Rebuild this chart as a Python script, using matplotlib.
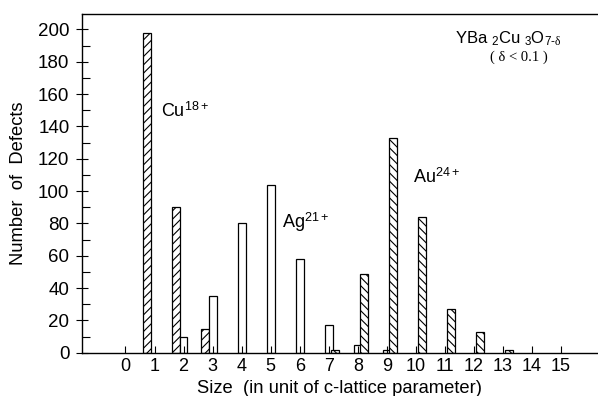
import matplotlib
matplotlib.use("Agg")
import matplotlib.pyplot as plt
import numpy as np

plt.rcParams['font.family'] = ['Liberation Sans', 'DejaVu Sans']
plt.rcParams['mathtext.fontset'] = 'custom'
plt.rcParams['mathtext.rm'] = 'Liberation Sans'
plt.rcParams['mathtext.it'] = 'Liberation Serif'
plt.rcParams['mathtext.bf'] = 'Liberation Sans:bold'
plt.rcParams['hatch.linewidth'] = 0.8

# Defect size distribution (size in units of the c-lattice parameter)
tick_sizes = list(range(16))
cu_sizes = [1, 2, 3]
cu_counts = [198, 90, 15]
ag_sizes = [2, 3, 4, 5, 6, 7, 8, 9]
ag_counts = [10, 35, 80, 104, 58, 17, 5, 2]
au_sizes = [7, 8, 9, 10, 11, 12, 13]
au_counts = [2, 49, 133, 84, 27, 13, 2]

bar_w = 0.27
fig = plt.figure(figsize=(5.98, 3.96), dpi=100)
ax = fig.add_axes([0.137, 0.109, 0.863, 0.856])

ax.bar(np.array(cu_sizes) - 0.25, cu_counts, width=bar_w, color='white',
       edgecolor='black', linewidth=0.9, hatch='////')
ax.bar(np.array(ag_sizes), ag_counts, width=bar_w, color='white',
       edgecolor='black', linewidth=0.9)
ax.bar(np.array(au_sizes) + 0.21, au_counts, width=bar_w, color='white',
       edgecolor='black', linewidth=0.9, hatch='\\\\\\\\')

ax.set_xlim(-1.5, 16.27)
ax.set_ylim(0, 209.6)
ax.spines['right'].set_visible(False)
for s in ('left', 'bottom', 'top'):
    ax.spines[s].set_linewidth(1.0)

ax.set_xticks(tick_sizes)
ax.set_xticklabels([str(t) for t in tick_sizes])
ax.set_yticks(np.arange(0, 201, 20))
ax.set_yticks(np.arange(0, 201, 10), minor=True)
ax.tick_params(axis='x', direction='in', length=5, width=0.8, labelsize=13, pad=4)
ax.tick_params(axis='y', which='major', direction='inout', length=8, width=0.8,
               labelsize=13.5, pad=5)
ax.tick_params(axis='y', which='minor', direction='in', length=6, width=0.8)

ax.set_xlabel('Size  (in unit of c-lattice parameter)', fontsize=13.2, labelpad=3)
ax.set_ylabel('Number  of  Defects', fontsize=13.2, labelpad=8)

ax.text(1.22, 146, 'Cu$^{18+}$', fontsize=13, ha='left', va='baseline')
ax.text(5.38, 77, 'Ag$^{21+}$', fontsize=13, ha='left', va='baseline')
ax.text(9.9, 105, 'Au$^{24+}$', fontsize=13, ha='left', va='baseline')
ax.text(11.35, 191.5, r'YBa $_{2}$Cu $_{3}$O$_{7\text{-}\mathit{\delta}}$',
        fontsize=12, ha='left', va='baseline')
ax.text(12.55, 180.5, '( δ < 0.1 )', fontsize=10.5, ha='left', va='baseline',
        family=['Liberation Serif', 'DejaVu Serif'])

fig.savefig('out.png', dpi=100)
